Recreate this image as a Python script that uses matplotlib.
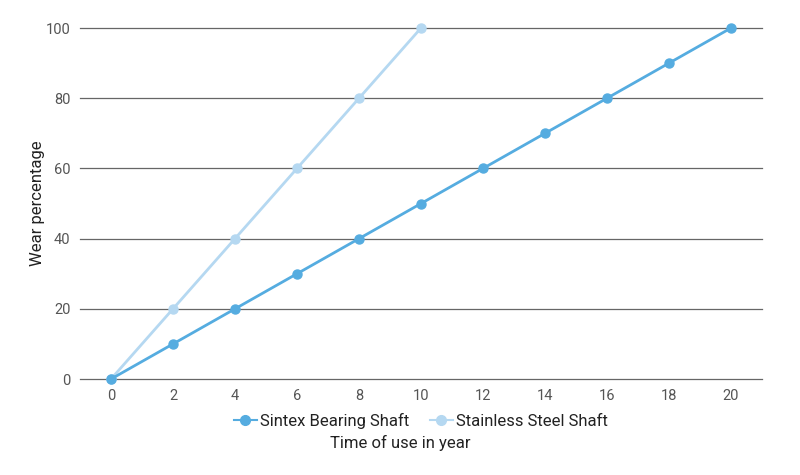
import matplotlib
matplotlib.use("Agg")
import matplotlib.pyplot as plt
from matplotlib.lines import Line2D

plt.rcParams['font.family'] = ['Roboto', 'DejaVu Sans']

years = [0, 2, 4, 6, 8, 10, 12, 14, 16, 18, 20]
sintex = [0, 10, 20, 30, 40, 50, 60, 70, 80, 90, 100]
steel_years = [0, 2, 4, 6, 8, 10]
steel = [0, 20, 40, 60, 80, 100]
yticks = [0, 20, 40, 60, 80, 100]

c_sintex = '#55ACE0'
c_steel = '#B5D8F1'

fig = plt.figure(figsize=(8, 4.75), dpi=100)
ax = fig.add_axes([0.1, 0.202, 0.8525, 0.739])

for y in yticks:
    ax.axhline(y, color='#666666', lw=0.9, zorder=1, clip_on=False)

ax.plot(steel_years, steel, color=c_steel, lw=2.0, marker='o', ms=6.5,
        zorder=3, clip_on=False)
ax.plot(years, sintex, color=c_sintex, lw=2.0, marker='o', ms=6.5,
        zorder=4, clip_on=False)

ax.set_xlim(-1, 21)
ax.set_ylim(0, 100)
ax.set_xticks(years)
ax.set_yticks(yticks)
for s in ax.spines.values():
    s.set_visible(False)
ax.tick_params(axis='both', length=0, labelsize=10.5, colors='#555555')
ax.tick_params(axis='x', pad=7)
ax.tick_params(axis='y', pad=7)
ax.set_ylabel('Wear percentage', fontsize=12, color='#222222')
ax.yaxis.set_label_coords(-0.051, 0.5)

handles = [
    Line2D([], [], color=c_sintex, lw=1.5, marker='o', ms=7),
    Line2D([], [], color=c_steel, lw=1.5, marker='o', ms=7),
]
leg = ax.legend(handles, ['Sintex Bearing Shaft', 'Stainless Steel Shaft'],
                loc='center', bbox_to_anchor=(0.5, -0.12), ncol=2,
                frameon=False, fontsize=12, handlelength=1.4,
                handletextpad=0.2, columnspacing=1.2)
for t in leg.get_texts():
    t.set_color('#222222')
fig.text(0.5, 1 - 443 / 475, 'Time of use in year', ha='center', va='center',
         fontsize=12, color='#222222')

fig.savefig('out.png', dpi=100)
